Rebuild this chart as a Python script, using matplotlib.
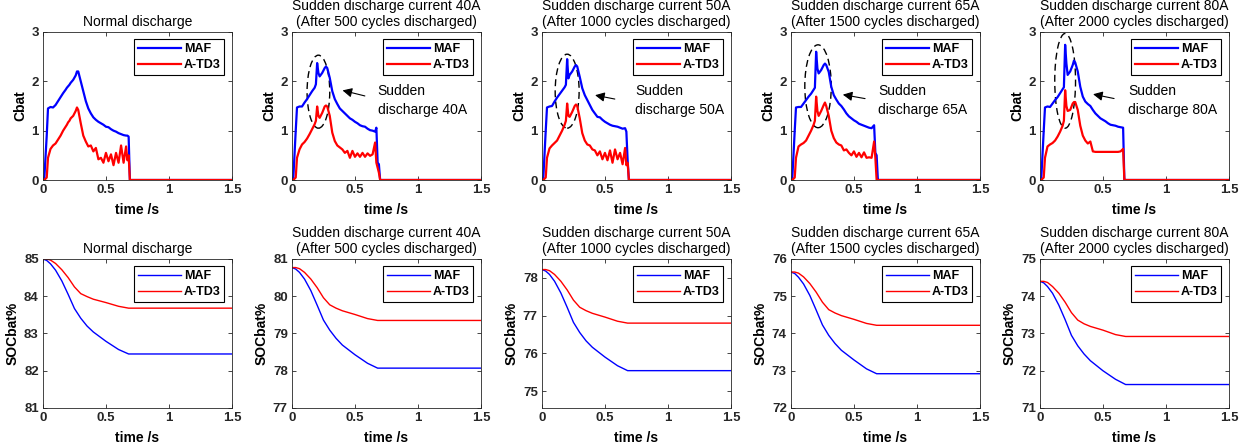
import matplotlib.pyplot as plt
from matplotlib.patches import Ellipse
from matplotlib.ticker import FormatStrFormatter

plt.rcParams['font.family'] = ['Liberation Sans', 'DejaVu Sans']

# ---- top row: Cbat vs time ----
t_top = [0, 0.01, 0.03, 0.04, 0.06, 0.08, 0.10, 0.12, 0.14, 0.16, 0.18, 0.19, 0.20, 0.21,
         0.22, 0.24, 0.26, 0.27, 0.28, 0.30, 0.32, 0.34, 0.36, 0.38, 0.40, 0.42, 0.44,
         0.46, 0.48, 0.50, 0.52, 0.54, 0.56, 0.58, 0.60, 0.62, 0.64, 0.66, 0.67, 0.68,
         0.69, 0.70, 1.50]

maf_c_normal = [0, 0, 0.9, 1.45, 1.48, 1.47, 1.52, 1.6, 1.68, 1.76, 1.83, 1.87, 1.9, 1.93,
                1.97, 2.03, 2.12, 2.2, 2.2, 2.0, 1.8, 1.6, 1.45, 1.35, 1.27, 1.22, 1.18,
                1.15, 1.12, 1.08, 1.07, 1.03, 1.0, 0.98, 0.95, 0.93, 0.91, 0.9, 0.9, 0.88,
                0, 0, 0]
atd3_c_normal = [0, 0, 0.05, 0.45, 0.63, 0.7, 0.74, 0.82, 0.9, 1.0, 1.08, 1.12, 1.17, 1.2,
                 1.25, 1.3, 1.4, 1.47, 1.42, 1.15, 0.9, 0.78, 0.68, 0.7, 0.58, 0.65, 0.42,
                 0.45, 0.35, 0.55, 0.38, 0.52, 0.3, 0.55, 0.35, 0.7, 0.35, 0.68, 0.4, 0.5,
                 0, 0, 0]

maf_c_40 = [0, 0, 1.0, 1.47, 1.49, 1.49, 1.57, 1.64, 1.72, 1.8, 1.87, 1.94, 2.37, 2.17,
            2.1, 2.17, 2.27, 2.3, 2.27, 2.07, 1.8, 1.64, 1.54, 1.45, 1.4, 1.35, 1.3,
            1.25, 1.22, 1.18, 1.15, 1.11, 1.09, 1.08, 1.04, 1.01, 1.0, 0.98, 1.06, 0.35,
            0.32, 0, 0]
atd3_c_40 = [0, 0, 0.05, 0.45, 0.62, 0.72, 0.77, 0.84, 0.93, 1.03, 1.13, 1.2, 1.49, 1.3,
             1.26, 1.36, 1.49, 1.51, 1.49, 1.3, 0.96, 0.79, 0.7, 0.66, 0.62, 0.55, 0.59,
             0.45, 0.59, 0.47, 0.54, 0.47, 0.55, 0.47, 0.54, 0.49, 0.52, 0.76, 0.35, 0.25,
             0.15, 0, 0]

maf_c_50 = [0, 0, 1.0, 1.47, 1.49, 1.5, 1.59, 1.67, 1.74, 1.81, 1.88, 1.93, 2.45, 2.06,
            2.13, 2.2, 2.3, 2.33, 2.3, 2.09, 1.86, 1.72, 1.62, 1.52, 1.42, 1.35, 1.28,
            1.27, 1.22, 1.18, 1.15, 1.12, 1.1, 1.09, 1.08, 1.06, 1.04, 1.05, 0.98, 0.4,
            0, 0, 0]
atd3_c_50 = [0, 0, 0.05, 0.45, 0.64, 0.7, 0.75, 0.8, 0.9, 1.0, 1.12, 1.2, 1.55, 1.3,
             1.28, 1.38, 1.5, 1.53, 1.5, 1.25, 0.95, 0.8, 0.72, 0.7, 0.62, 0.6, 0.5,
             0.58, 0.42, 0.55, 0.4, 0.6, 0.35, 0.62, 0.42, 0.55, 0.32, 0.65, 0.3, 0.35,
             0, 0, 0]

maf_c_65 = [0, 0, 1.0, 1.47, 1.48, 1.48, 1.55, 1.62, 1.69, 1.75, 1.83, 1.87, 2.6, 2.26,
            2.16, 2.23, 2.33, 2.36, 2.33, 2.19, 1.89, 1.72, 1.63, 1.55, 1.5, 1.43, 1.35,
            1.29, 1.25, 1.21, 1.18, 1.14, 1.12, 1.1, 1.08, 1.06, 1.05, 1.11, 0.55, 0.5,
            0, 0, 0]
atd3_c_65 = [0, 0, 0.05, 0.45, 0.68, 0.72, 0.75, 0.8, 0.9, 1.0, 1.12, 1.2, 1.69, 1.4,
             1.3, 1.4, 1.52, 1.57, 1.5, 1.3, 1.0, 0.85, 0.76, 0.72, 0.7, 0.6, 0.62,
             0.55, 0.5, 0.58, 0.47, 0.55, 0.46, 0.56, 0.45, 0.46, 0.45, 0.78, 0.45, 0,
             0, 0, 0]

maf_c_80 = [0, 0, 1.0, 1.47, 1.49, 1.48, 1.55, 1.62, 1.68, 1.76, 1.84, 1.88, 2.74, 2.36,
            2.13, 2.2, 2.33, 2.42, 2.38, 2.2, 1.89, 1.69, 1.59, 1.54, 1.5, 1.42, 1.35,
            1.3, 1.25, 1.22, 1.19, 1.15, 1.12, 1.11, 1.1, 1.08, 1.07, 1.06, 0, 0,
            0, 0, 0]
atd3_c_80 = [0, 0, 0.05, 0.45, 0.68, 0.72, 0.75, 0.8, 0.88, 0.98, 1.1, 1.2, 1.82, 1.5,
             1.4, 1.42, 1.55, 1.58, 1.58, 1.42, 1.1, 0.9, 0.8, 0.74, 0.78, 0.58, 0.57,
             0.57, 0.57, 0.57, 0.57, 0.57, 0.57, 0.57, 0.57, 0.57, 0.58, 0.63, 0, 0,
             0, 0, 0]

# ---- bottom row: SOCbat% vs time ----
t_bot = [0, 0.03, 0.06, 0.10, 0.15, 0.20, 0.25, 0.30, 0.35, 0.40, 0.50, 0.60, 0.68, 1.50]

maf_s_normal = [85, 84.96, 84.87, 84.70, 84.41, 84.05, 83.67, 83.41, 83.20, 83.04, 82.79, 82.57, 82.45, 82.45]
atd3_s_normal = [85, 85, 84.97, 84.88, 84.71, 84.50, 84.25, 84.07, 83.99, 83.92, 83.83, 83.73, 83.68, 83.68]
maf_s_40 = [80.77, 80.73, 80.64, 80.46, 80.15, 79.76, 79.36, 79.09, 78.87, 78.69, 78.43, 78.20, 78.07, 78.07]
atd3_s_40 = [80.77, 80.77, 80.74, 80.64, 80.46, 80.23, 79.96, 79.77, 79.68, 79.61, 79.51, 79.40, 79.35, 79.35]
maf_s_50 = [78.22, 78.18, 78.09, 77.91, 77.6, 77.22, 76.82, 76.55, 76.33, 76.16, 75.90, 75.67, 75.54, 75.54]
atd3_s_50 = [78.22, 78.22, 78.19, 78.09, 77.91, 77.68, 77.41, 77.22, 77.13, 77.06, 76.96, 76.85, 76.80, 76.80]
maf_s_65 = [75.65, 75.61, 75.51, 75.33, 75.02, 74.63, 74.23, 73.95, 73.73, 73.55, 73.29, 73.05, 72.92, 72.92]
atd3_s_65 = [75.65, 75.65, 75.62, 75.52, 75.34, 75.11, 74.84, 74.64, 74.55, 74.48, 74.38, 74.27, 74.22, 74.22]
maf_s_80 = [74.4, 74.36, 74.26, 74.08, 73.76, 73.37, 72.95, 72.67, 72.45, 72.27, 72.00, 71.77, 71.63, 71.63]
atd3_s_80 = [74.4, 74.4, 74.37, 74.26, 74.08, 73.84, 73.56, 73.36, 73.26, 73.19, 73.09, 72.97, 72.92, 72.92]

titles = ['Normal discharge',
          'Sudden discharge current 40A\n(After 500 cycles discharged)',
          'Sudden discharge current 50A\n(After 1000 cycles discharged)',
          'Sudden discharge current 65A\n(After 1500 cycles discharged)',
          'Sudden discharge current 80A\n(After 2000 cycles discharged)']
soc_ylims = [(81, 85), (77, 81), (74.55, 78.5), (72, 76), (71, 75)]
soc_yticks = [[81, 82, 83, 84, 85], [77, 78, 79, 80, 81], [75, 76, 77, 78],
              [72, 73, 74, 75, 76], [71, 72, 73, 74, 75]]

maf_c = [maf_c_normal, maf_c_40, maf_c_50, maf_c_65, maf_c_80]
atd3_c = [atd3_c_normal, atd3_c_40, atd3_c_50, atd3_c_65, atd3_c_80]
maf_s = [maf_s_normal, maf_s_40, maf_s_50, maf_s_65, maf_s_80]
atd3_s = [atd3_s_normal, atd3_s_40, atd3_s_50, atd3_s_65, atd3_s_80]

# sudden discharge markers: ellipse (center, width, height), arrow tail/head, text x
notes = [None,
         dict(c=(0.21, 1.79), w=0.18, h=1.48, tail=(0.60, 1.69), head=(0.38, 1.83), tx=0.68, lab='40A'),
         dict(c=(0.20, 1.80), w=0.19, h=1.50, tail=(0.60, 1.63), head=(0.40, 1.73), tx=0.74, lab='50A'),
         dict(c=(0.215, 1.90), w=0.21, h=1.68, tail=(0.61, 1.64), head=(0.39, 1.74), tx=0.69, lab='65A'),
         dict(c=(0.20, 2.01), w=0.165, h=1.92, tail=(0.61, 1.64), head=(0.40, 1.75), tx=0.70, lab='80A')]

fig = plt.figure(figsize=(12.45, 4.48), dpi=100)

lefts = [0.0345, 0.2345, 0.4353, 0.6353, 0.8353]
w = 0.1518
dark = '#262626'


def style(ax):
    ax.tick_params(direction='in', top=True, right=True, length=3, width=0.6,
                   labelsize=9.5, colors=dark, pad=3)
    for lab in ax.get_xticklabels() + ax.get_yticklabels():
        lab.set_fontweight('bold')
    for sp in ax.spines.values():
        sp.set_color(dark)
        sp.set_linewidth(0.6)
    ax.set_xlim(0, 1.5)
    ax.set_xticks([0, 0.5, 1, 1.5])
    ax.xaxis.set_major_formatter(FormatStrFormatter('%g'))
    ax.yaxis.set_major_formatter(FormatStrFormatter('%g'))
    ax.set_xlabel('time /s', fontsize=10, fontweight='bold', labelpad=5)
    leg = ax.legend(loc='upper right', prop={'weight': 'bold', 'size': 9},
                    handlelength=3.5, handletextpad=0.2, borderaxespad=0.6,
                    fancybox=False, framealpha=1, edgecolor='black',
                    borderpad=0.3, labelspacing=0.3)
    leg.get_frame().set_linewidth(0.8)


for i in range(5):
    ax = fig.add_axes([lefts[i], 0.5982, w, 0.3304])
    ax.plot(t_top, maf_c[i], color='#0000ff', lw=1.6, label='MAF')
    ax.plot(t_top, atd3_c[i], color='#ff0000', lw=1.6, label='A-TD3')
    ax.set_ylim(0, 3)
    ax.set_yticks([0, 1, 2, 3])
    ax.set_ylabel('Cbat', fontsize=10, fontweight='bold', labelpad=3)
    ax.set_title(titles[i], fontsize=10, pad=4, linespacing=1.2)
    style(ax)
    n = notes[i]
    if n is not None:
        ax.add_patch(Ellipse(n['c'], n['w'], n['h'], fill=False, ls=(0, (5, 3)),
                             lw=1.0, color='black'))
        ax.annotate('', xy=n['head'], xytext=n['tail'],
                    arrowprops=dict(arrowstyle='-|>', color='black', lw=0.8,
                                    mutation_scale=14))
        ax.text(n['tx'], 1.62, 'Sudden\ndischarge ' + n['lab'], fontsize=10,
                ha='left', va='center', linespacing=1.45)

    ax2 = fig.add_axes([lefts[i], 0.0893, w, 0.3326])
    ax2.plot(t_bot, maf_s[i], color='#0000ff', lw=1.0, label='MAF')
    ax2.plot(t_bot, atd3_s[i], color='#ff0000', lw=1.0, label='A-TD3')
    ax2.set_ylim(*soc_ylims[i])
    ax2.set_yticks(soc_yticks[i])
    ax2.set_ylabel('SOCbat%', fontsize=10, fontweight='bold', labelpad=3)
    ax2.set_title(titles[i], fontsize=10, pad=4, linespacing=1.2)
    style(ax2)

fig.savefig('out.png', dpi=100)
